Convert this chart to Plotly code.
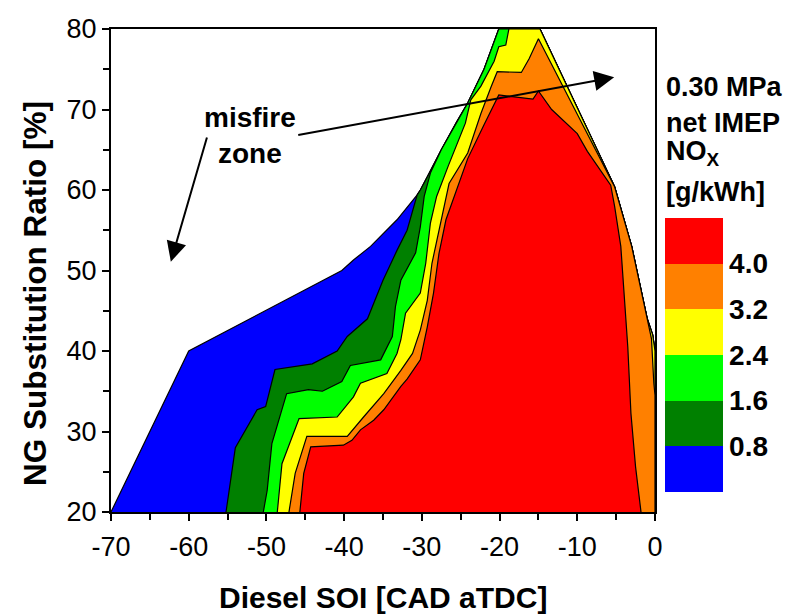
import plotly.graph_objects as go

# ---------------- data ----------------
LEVELS = [0.8, 1.6, 2.4, 3.2, 4.0]
LEVEL_LABELS = ["0.8", "1.6", "2.4", "3.2", "4.0"]
BAND_COLORS = ["#0000FF", "#008000", "#00FF00", "#FFFF00", "#FF8000", "#FF0000"]

X_TICKS = [-70, -60, -50, -40, -30, -20, -10, 0]
X_TICK_TEXT = ["-70", "-60", "-50", "-40", "-30", "-20", "-10", "0"]
Y_TICKS = [20, 30, 40, 50, 60, 70, 80]

# outer boundary of the measured domain (NOx > 0)
OUTER_X = [-70, -60, -40.3, -38.8, -36.6, -33.2, -30.6, -30.2, -29.1, -27.5, -25.5, -24.1, -22.0, -20.1,
           -14.8, -5.2, -3.0, -1.0, -0.3, 0.0, 0.0]
OUTER_Y = [20, 40, 50.0, 51.3, 53.0, 56.3, 59.4, 60.0, 62.0, 65.0, 68.5, 70.8, 75.0, 80.0,
           80.0, 60.4, 53.0, 44.0, 42.0, 40.0, 20.0]

# contour 0.8 g/kWh (joins outer boundary at index 7)
C08_X = [-55.2, -54.0, -51.2, -50.1, -48.9, -44.1, -40.9, -39.6, -37.0, -35.0, -33.2, -31.9, -30.6]
C08_Y = [20.0, 28.0, 32.7, 33.1, 37.7, 38.4, 40.0, 41.8, 44.0, 48.8, 52.5, 55.0, 59.4]
# contour 1.6 g/kWh (joins outer boundary at index 9)
C16_X = [-50.4, -49.9, -49.3, -47.4, -44.6, -42.8, -40.3, -39.2, -35.3, -33.8, -33.4, -32.7, -30.8,
         -30.2, -29.7, -28.9]
C16_Y = [20.0, 22.7, 28.5, 34.7, 35.2, 35.0, 36.2, 38.2, 38.9, 41.8, 45.5, 48.8, 52.2,
         55.4, 59.2, 62.1]
# contour 2.4 g/kWh (joins outer boundary at index 14)
C24_X = [-48.6, -48.0, -45.8, -40.9, -38.8, -37.9, -34.5, -33.2, -32.7, -32.1, -30.2, -29.5, -28.9,
         -28.1, -26.6, -24.4, -23.7, -22.4, -20.7, -20.1, -19.2, -18.8]
C24_Y = [20.0, 26.0, 31.6, 31.8, 34.3, 36.0, 37.2, 39.7, 41.4, 44.7, 47.2, 50.9, 55.9,
         59.2, 63.0, 68.3, 71.2, 72.9, 76.0, 77.8, 78.0, 80.0]
# contour 3.2 g/kWh (closed by itself along the bottom)
C32_X = [-47.1, -46.3, -44.8, -39.6, -37.5, -34.9, -32.7, -31.2, -30.2, -29.3, -28.7, -27.6, -26.5,
         -24.1, -22.4, -21.1, -20.3, -17.2, -16.2, -15.0, -5.2, -3.0, -1.0, -0.45, -0.15, 0.0, 0.0]
C32_Y = [20.0, 24.8, 29.4, 29.4, 31.8, 34.7, 37.6, 39.7, 42.6, 46.3, 50.9, 55.9, 60.8,
         64.6, 69.5, 72.8, 74.7, 74.6, 76.3, 78.8, 60.4, 53.0, 44.0, 41.5, 36.0, 34.5, 20.0]
# contour 4.0 g/kWh (closed by itself along the bottom)
C40_X = [-45.7, -45.2, -44.3, -40.1, -39.0, -37.9, -36.2, -34.9, -32.7, -31.9, -30.2, -29.3, -28.5,
         -27.8, -26.9, -25.4, -24.1, -22.0, -20.1, -15.7, -15.0, -13.3, -10.0, -8.7, -5.7, -5.2,
         -4.4, -3.5, -3.1, -2.5, -1.8]
C40_Y = [20.0, 24.8, 28.1, 28.3, 28.9, 30.2, 31.4, 32.7, 35.6, 36.5, 38.9, 43.0, 47.2,
         52.1, 56.3, 60.4, 63.9, 68.1, 71.8, 71.3, 72.3, 70.0, 67.0, 64.8, 60.6, 58.0,
         53.0, 40.5, 32.3, 25.6, 20.0]

CONTOURS = [(C08_X, C08_Y, 7), (C16_X, C16_Y, 9), (C24_X, C24_Y, 14), (C32_X, C32_Y, None),
            (C40_X, C40_Y, None)]

FONT = "Liberation Sans, Arial, sans-serif"

fig = go.Figure()

# base band (domain)
fig.add_trace(go.Scatter(x=OUTER_X, y=OUTER_Y, mode="lines", fill="toself",
                         fillcolor=BAND_COLORS[0], line=dict(color="black", width=1.2),
                         hoverinfo="skip", showlegend=False))
for i, (cx, cy, join) in enumerate(CONTOURS):
    px, py = list(cx), list(cy)
    if join is not None:
        px += OUTER_X[join:]
        py += OUTER_Y[join:]
    fig.add_trace(go.Scatter(x=px, y=py, mode="lines", fill="toself",
                             fillcolor=BAND_COLORS[i + 1], line=dict(color="black", width=1.2),
                             hoverinfo="skip", showlegend=False))

# colour bar
n = len(BAND_COLORS)
cmax = LEVELS[-1] + (LEVELS[1] - LEVELS[0])
scale = []
for i, c in enumerate(BAND_COLORS):
    scale.append([i / n, c])
    scale.append([(i + 1) / n, c])
fig.add_trace(go.Scatter(
    x=[None], y=[None], mode="markers", hoverinfo="skip", showlegend=False,
    marker=dict(color=[0], colorscale=scale, cmin=0, cmax=cmax, showscale=True,
                colorbar=dict(tickvals=LEVELS, ticktext=["<b>%s</b>" % t for t in LEVEL_LABELS],
                              tickfont=dict(family=FONT, size=28, color="black"),
                              ticks="", outlinewidth=0, thickness=58, thicknessmode="pixels",
                              len=274, lenmode="pixels", x=(665 - 111) / 544, xanchor="left",
                              xpad=0, y=(512 - 218) / 483, yanchor="top", ypad=0))))

annotations = []
# colour bar title
for txt, yc in [("0.30 MPa", 87.5), ("net IMEP", 122.5), ("NO<sub>X</sub>", 153), ("[g/kWh]", 192)]:
    annotations.append(dict(text="<b>%s</b>" % txt, xref="paper", yref="paper",
                            x=(664 - 111) / 544, y=(512 - yc) / 483, xanchor="left",
                            yanchor="middle", showarrow=False,
                            font=dict(family=FONT, size=27, color="black")))
# misfire zone
annotations.append(dict(text="<b>misfire<br>zone</b>", x=-52.1, y=66.8, xref="x", yref="y",
                        showarrow=False, font=dict(family=FONT, size=28, color="black")))
annotations.append(dict(text="", x=-62.3, y=51.1, ax=-57.6, ay=66.7, xref="x", yref="y",
                        axref="x", ayref="y", showarrow=True, arrowhead=2, arrowsize=2,
                        arrowwidth=2, arrowcolor="black"))
annotations.append(dict(text="", x=-5.25, y=74.0, ax=-46.1, ay=66.8, xref="x", yref="y",
                        axref="x", ayref="y", showarrow=True, arrowhead=2, arrowsize=2,
                        arrowwidth=2, arrowcolor="black"))
# axis titles
annotations.append(dict(text="<b>Diesel SOI [CAD aTDC]</b>", xref="paper", yref="paper",
                        x=0.5, y=(512 - 597) / 483, xanchor="center", yanchor="middle",
                        showarrow=False, font=dict(family=FONT, size=30, color="black")))
annotations.append(dict(text="<b>NG Substitution Ratio [%]</b>", xref="paper", yref="paper",
                        x=(35 - 111) / 544, y=(512 - 294) / 483, xanchor="center",
                        yanchor="middle", textangle=-90, showarrow=False,
                        font=dict(family=FONT, size=31.5, color="black")))

fig.update_layout(
    width=807, height=615, margin=dict(l=111, r=152, t=29, b=103),
    paper_bgcolor="white", plot_bgcolor="white", annotations=annotations,
    font=dict(family=FONT, color="black"),
)
fig.update_xaxes(range=[-70, 0], tickvals=X_TICKS, ticktext=X_TICK_TEXT, ticks="outside",
                 ticklen=7, tickwidth=2, tickcolor="black", showline=True, linewidth=2,
                 linecolor="black", mirror=True, showgrid=False, zeroline=False,
                 tickfont=dict(family=FONT, size=27, color="black"), ticklabelstandoff=3,
                 minor=dict(dtick=5, ticks="outside", ticklen=6, tickwidth=2, tickcolor="black",
                            showgrid=False))
fig.update_yaxes(range=[20, 80], tickvals=Y_TICKS, ticks="outside",
                 ticklen=7, tickwidth=2, tickcolor="black", showline=True, linewidth=2,
                 linecolor="black", mirror=True, showgrid=False, zeroline=False,
                 tickfont=dict(family=FONT, size=27, color="black"),
                 minor=dict(dtick=5, ticks="outside", ticklen=6, tickwidth=2, tickcolor="black",
                            showgrid=False))

fig.write_html("out.html")
